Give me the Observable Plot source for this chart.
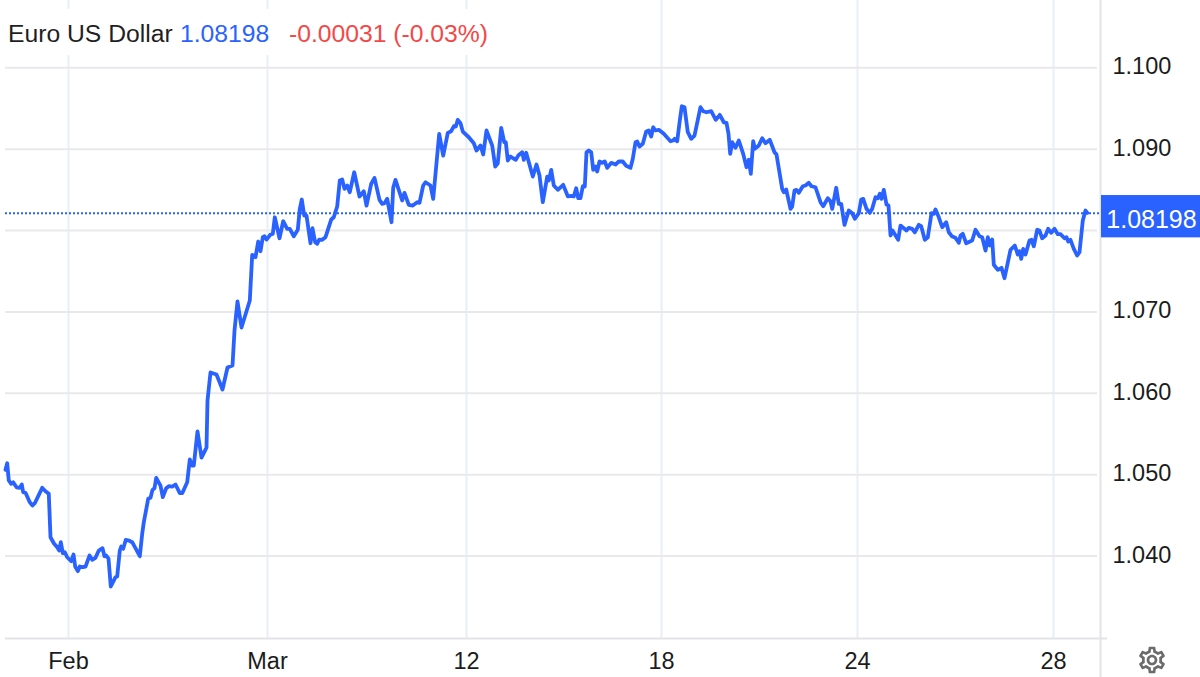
<!DOCTYPE html>
<html>
<head>
<meta charset="utf-8">
<script src="https://cdn.jsdelivr.net/npm/d3@7"></script>
<script src="https://cdn.jsdelivr.net/npm/@observablehq/plot@0.6"></script>
<style>
html,body{margin:0;padding:0;background:#fff;overflow:hidden}
#wrap{position:relative;width:1200px;height:677px;font-family:"Liberation Sans",Arial,sans-serif}
#head{position:absolute;left:0;top:9px;width:520px;height:46px;background:#fff;font-size:24.7px;line-height:50px;white-space:pre;color:#1f1f1f;padding-left:8px;box-sizing:border-box}
#head span{position:absolute;top:0}
#gear{position:absolute;left:1136px;top:644px;width:32px;height:32px;fill:#6b6b6b}
svg{display:block}
</style>
</head>
<body>
<div id="wrap">
<div id="chart"></div>
<div id="head"><span style="left:8px">Euro US Dollar</span><span style="left:180px;color:#2962ff">1.08198</span><span style="left:289px;color:#f44848">-0.00031 (-0.03%)</span></div>
<svg id="gear" viewBox="0 0 24 24"><path d="M19.43 12.98c.04-.32.07-.64.07-.98 0-.34-.03-.66-.07-.98l2.11-1.65c.19-.15.24-.42.12-.64l-2-3.46c-.09-.16-.26-.25-.44-.25-.06 0-.12.01-.17.03l-2.49 1c-.52-.4-1.08-.73-1.69-.98l-.38-2.65C14.46 2.18 14.25 2 14 2h-4c-.25 0-.46.18-.49.42l-.38 2.65c-.61.25-1.17.59-1.69.98l-2.49-1c-.06-.02-.12-.03-.18-.03-.17 0-.34.09-.43.25l-2 3.46c-.13.22-.07.49.12.64l2.11 1.65c-.04.32-.07.65-.07.98 0 .33.03.66.07.98l-2.11 1.65c-.19.15-.24.42-.12.64l2 3.46c.09.16.26.25.44.25.06 0 .12-.01.17-.03l2.49-1c.52.4 1.08.73 1.69.98l.38 2.65c.03.24.24.42.49.42h4c.25 0 .46-.18.49-.42l.38-2.65c.61-.25 1.17-.59 1.69-.98l2.49 1c.06.02.12.03.18.03.17 0 .34-.09.43-.25l2-3.46c.12-.22.07-.49-.12-.64l-2.11-1.65zm-1.98-1.71c.04.31.05.52.05.73 0 .21-.02.43-.05.73l-.14 1.13.89.7 1.08.84-.7 1.21-1.27-.51-1.04-.42-.9.68c-.43.32-.84.56-1.25.73l-1.06.43-.16 1.13-.2 1.35h-1.4l-.19-1.35-.16-1.13-1.06-.43c-.43-.18-.83-.41-1.23-.71l-.91-.7-1.06.43-1.27.51-.7-1.21 1.08-.84.89-.7-.14-1.13c-.03-.31-.05-.54-.05-.74s.02-.43.05-.73l.14-1.13-.89-.7-1.08-.84.7-1.21 1.27.51 1.04.42.9-.68c.43-.32.84-.56 1.25-.73l1.06-.43.16-1.13.2-1.35h1.39l.19 1.35.16 1.13 1.06.43c.43.18.83.41 1.23.71l.91.7 1.06-.43 1.27-.51.7 1.21-1.07.85-.89.7.14 1.13zM12 8c-2.21 0-4 1.79-4 4s1.79 4 4 4 4-1.79 4-4-1.79-4-4-4zm0 6c-1.1 0-2-.9-2-2s.9-2 2-2 2 .9 2 2-.9 2-2 2z"/></svg>
</div>
<script>
const bars = [0,1.7,3.3,5.7,7.7,11,14.3,16.3,17.7,20,24.3,27,29.3,36.7,40,43.3,45,48.3,51.7,53.7,55.3,57.3,59.3,61.7,65.7,68,69.7,72.3,74.3,77.3,80,84,86.7,90,93.3,97,99,100.7,103,105.3,110,111.7,114.3,115.7,117.7,120.3,123.3,126.7,134.3,136.7,138.3,142.7,145,147,149,150.7,155,157.3,160.7,163.3,166.7,170,174.3,176.7,181.7,184.3,186.7,188.3,192,196,201,202,205,211,217,222,227,229,232,236,244.3,246.7,250,252.7,255,257.3,259,261,265,267.3,269.3,274,277.7,281.7,284.3,288.3,292.3,294.3,296.3,298.7,301,305,307,309.7,311.7,313.7,316.7,320,325.7,328.3,331.7,334.3,336.7,339,341.7,344.3,348.7,354,358.3,361,365.7,369,374,376.7,379,381.7,386,387.7,390,396.7,399,403.3,407.3,411.7,414,417.7,420,425,427.7,433.7,437.7,442.3,445.7,448.3,450.3,452.3,455,457.3,463.3,468.3,471,475,477.7,481,486.7,489.7,492.3,495.7,498.7,500.3,502.3,505,507.7,510.3,512.7,516.7,518.3,520.7,527.3,531,534,537.3,541.7,543.3,545.7,548.3,552.3,557.7,562.3,565.7,568.3,570.7,572.7,575,577.3,579.3,581,583.3,585.7,587.7,590,591.7,594,596.7,599.3,601.7,605.7,610,613.3,617.3,620.7,625,627.3,630,631.7,634,637.3,640.7,643.3,645.7,647.7,650,653.3,658.3,665,667.7,669,671.7,674.3,676.3,679,682.3,685.7,689,695,697.7,701,705.7,710.3,714.3,718.3,721,723,724.7,726.7,730,733.3,737.7,741,743.3,745.3,747.7,749.3,753.3,756.7,760,764.3,769,771,776.7,778.3,780.7,785,786.7,789,791,793.3,797.3,800,803.3,806,810,815,817.7,822.3,825,826.7,830.7,833.3,835.7,839,843.3,846.7,849.3,853.3,855.7,857.7,861,864.3,866.7,870,872.3,874.3,876,878.3,881,883,885,887,892.7,895,901,903.3,906.7,909.3,913.3,915.7,919.3,922.3,926,928.3,930,933.3,936.7,940.7,943.3,946.7,950,953.3,955,957.3,960.7,966.7,970,974,976.7,980,982.3,984.3,986.7,988.3,992.3,996,999,1005,1009.3,1012.3,1014,1015.7,1017.7,1020,1024,1026,1028.3,1031.7,1034,1036.7,1040,1042.7,1045.7,1049,1052.3,1055,1059,1061,1062.7,1065,1068.3,1071.7,1074,1077.3,1080,1081.7];
const prices = [1.05060,1.05141,1.04929,1.04888,1.04908,1.04846,1.04839,1.04880,1.04785,1.04778,1.04662,1.04622,1.04650,1.04839,1.04797,1.04765,1.04232,1.04158,1.04109,1.04069,1.04171,1.04036,1.04048,1.03986,1.03937,1.04020,1.03872,1.03815,1.03872,1.03864,1.03872,1.04007,1.03955,1.03979,1.04069,1.04097,1.03999,1.04007,1.03970,1.03627,1.03741,1.03749,1.04069,1.04118,1.04090,1.04200,1.04192,1.04171,1.03999,1.04274,1.04416,1.04704,1.04716,1.04814,1.04834,1.04962,1.04867,1.04724,1.04834,1.04859,1.04855,1.04880,1.04773,1.04773,1.04908,1.05187,1.05113,1.05113,1.05531,1.05211,1.05334,1.05912,1.06256,1.06231,1.06047,1.06317,1.06342,1.06771,1.07128,1.06808,1.07140,1.07701,1.07672,1.07865,1.07746,1.07918,1.07930,1.07889,1.07951,1.07959,1.08163,1.07905,1.08114,1.08021,1.08021,1.07930,1.08009,1.08267,1.08381,1.08184,1.08184,1.07844,1.08028,1.07856,1.07837,1.07889,1.07886,1.07918,1.08135,1.08163,1.08295,1.08614,1.08627,1.08512,1.08553,1.08471,1.08716,1.08418,1.08483,1.08307,1.08574,1.08647,1.08377,1.08328,1.08335,1.08389,1.08102,1.08525,1.08623,1.08369,1.08463,1.08316,1.08307,1.08348,1.08340,1.08553,1.08593,1.08553,1.08389,1.09188,1.08921,1.09200,1.09220,1.09281,1.09278,1.09360,1.09318,1.09216,1.09146,1.09072,1.08983,1.09044,1.08934,1.09229,1.09044,1.08786,1.08827,1.09262,1.09085,1.09085,1.08860,1.08909,1.08888,1.08869,1.08921,1.08962,1.08869,1.08955,1.08663,1.08811,1.08676,1.08348,1.08663,1.08614,1.08746,1.08553,1.08500,1.08561,1.08421,1.08426,1.08418,1.08520,1.08397,1.08397,1.08544,1.08541,1.08962,1.08983,1.08962,1.08746,1.08786,1.08725,1.08848,1.08832,1.08848,1.08770,1.08832,1.08811,1.08848,1.08848,1.08795,1.08770,1.08881,1.09085,1.09093,1.09032,1.09065,1.09216,1.09229,1.09155,1.09269,1.09229,1.09237,1.09188,1.09097,1.09106,1.09127,1.09097,1.09351,1.09527,1.09515,1.09208,1.09127,1.09167,1.09515,1.09466,1.09453,1.09466,1.09360,1.09421,1.09330,1.09323,1.09188,1.08942,1.09085,1.09016,1.09106,1.08942,1.08778,1.08869,1.08697,1.09097,1.09004,1.09044,1.09134,1.09072,1.09114,1.08962,1.08934,1.08512,1.08471,1.08504,1.08267,1.08295,1.08491,1.08500,1.08463,1.08544,1.08553,1.08586,1.08544,1.08532,1.08348,1.08299,1.08397,1.08360,1.08267,1.08525,1.08328,1.08328,1.08070,1.08246,1.08213,1.08144,1.08213,1.08381,1.08389,1.08267,1.08217,1.08267,1.08409,1.08397,1.08451,1.08389,1.08500,1.08319,1.08307,1.07939,1.08000,1.07886,1.08061,1.08000,1.08033,1.08021,1.07979,1.08070,1.08053,1.07886,1.07918,1.08213,1.08205,1.08258,1.08163,1.08041,1.08102,1.07979,1.07926,1.07910,1.07849,1.07939,1.07959,1.07844,1.07877,1.08009,1.07930,1.07918,1.07754,1.07918,1.07816,1.07889,1.07579,1.07517,1.07542,1.07414,1.07763,1.07816,1.07705,1.07746,1.07652,1.07775,1.07705,1.07877,1.07886,1.07807,1.08009,1.08000,1.07905,1.07939,1.08021,1.07972,1.08021,1.07955,1.07955,1.07905,1.07918,1.07865,1.07886,1.07775,1.07693,1.07733,1.08123,1.08246,1.08217];
const xTickBars = [63,262,461,656,852,1048];
const xTickLabels = ["Feb","Mar","12","18","24","28"];
const yTicks = [1.04,1.05,1.06,1.07,1.08,1.09,1.10];
const yLabelTicks = [1.04,1.05,1.06,1.07,1.09,1.10];
const lastLabel = "1.08198";
const lastLevel = 1.08213;
const xDomain = [0,1095];
const yDomain = [1.02988,1.10826];
const yBelow = 1.02509;
const blue = "#2962ff";
const n = Math.min(bars.length, prices.length);
const data = d3.range(n).map(i => ({bar: bars[i], price: prices[i]}));
const fontFamily = '"Liberation Sans",Arial,sans-serif';
const chart = Plot.plot({
  width:1200, height:677, marginLeft:5, marginRight:100, marginTop:0, marginBottom:39,
  style:{fontFamily, background:"#fff"},
  x:{domain:xDomain, axis:null},
  y:{domain:yDomain, axis:null},
  marks:[
    Plot.ruleX(xTickBars,{stroke:"#e8f0f7",strokeWidth:2}),
    Plot.ruleY(yTicks,{x1:0,x2:1092,stroke:"#e9e9ec",strokeWidth:2}),
    Plot.ruleY([yDomain[0]],{x1:0,x2:1102,stroke:"#e4e4e7",strokeWidth:2}),
    Plot.ruleX([xDomain[1]],{y1:yDomain[1],y2:yBelow,stroke:"#e4e4e7",strokeWidth:2}),
    Plot.ruleY([lastLevel],{x1:0,x2:1095,stroke:blue,strokeWidth:2,strokeDasharray:"2,2"}),
    Plot.line(data,{x:"bar",y:"price",stroke:blue,strokeWidth:3.8,curve:"linear",strokeLinejoin:"round"}),
    Plot.axisY(yLabelTicks,{anchor:"right",tickSize:0,tickPadding:12,dy:-1,tickFormat:d3.format(".3f"),fontSize:23.5,fill:"#1c1c1c",label:null}),
    Plot.axisX(xTickBars,{anchor:"bottom",tickSize:0,tickPadding:14,tickFormat:(d)=>xTickLabels[xTickBars.indexOf(d)],fontSize:23.5,fill:"#1c1c1c",label:null}),
    Plot.rect([0],{x1:()=>1096,x2:()=>1195,y1:()=>1.0791,y2:()=>1.0843,fill:blue}),
    Plot.text([lastLabel],{x:()=>1146,y:()=>1.08135,text:d=>d,fill:"#fff",fontSize:25,textAnchor:"middle"})
  ]
});
document.getElementById("chart").appendChild(chart);
</script>
</body>
</html>
